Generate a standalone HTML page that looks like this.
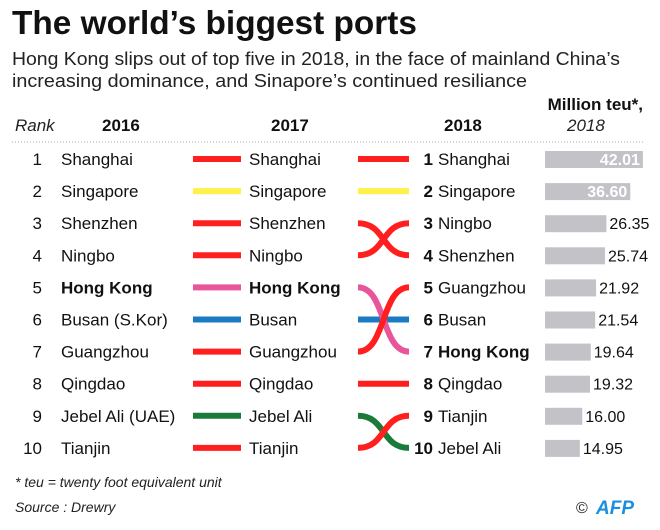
<!DOCTYPE html>
<html><head><meta charset="utf-8">
<style>
body{margin:0;background:#fff;}
svg{display:block;font-family:"Liberation Sans Narrow","Liberation Sans",sans-serif;}
</style></head>
<body>
<svg id="c" width="660" height="530" viewBox="0 0 660 530">
<text x="12" y="34" font-size="33" font-weight="bold" fill="#111" textLength="405" lengthAdjust="spacingAndGlyphs">The world’s biggest ports</text>
<text x="12" y="65" font-size="18" fill="#222" textLength="608" lengthAdjust="spacingAndGlyphs">Hong Kong slips out of top five in 2018, in the face of mainland China’s</text>
<text x="12" y="87" font-size="18" fill="#222" textLength="515" lengthAdjust="spacingAndGlyphs">increasing dominance, and Sinapore’s continued resiliance</text>
<text x="643" y="110" font-size="17" font-weight="bold" fill="#111" text-anchor="end">Million teu*,</text>
<text x="15" y="131" font-size="17" font-style="italic" fill="#222">Rank</text>
<text x="102" y="131" font-size="17" font-weight="bold" fill="#111">2016</text>
<text x="271" y="131" font-size="17" font-weight="bold" fill="#111">2017</text>
<text x="444" y="131" font-size="17" font-weight="bold" fill="#111">2018</text>
<text x="567" y="131" font-size="17" font-style="italic" fill="#222">2018</text>
<line x1="12" y1="142" x2="645" y2="142" stroke="#aaa" stroke-dasharray="1,2"/>
<g id="rows"></g>
<text x="15" y="487" font-size="14" font-style="italic" fill="#222">* teu = twenty foot equivalent unit</text>
<text x="15" y="512" font-size="14" font-style="italic" fill="#222">Source : Drewry</text>
<text x="576" y="513" font-size="16" fill="#222">©</text>
<text x="596" y="514" font-size="19" font-weight="bold" font-style="italic" fill="#1a8fe0">AFP</text>
</svg>
<script>
const names2016 = ["Shanghai","Singapore","Shenzhen","Ningbo","Hong Kong","Busan (S.Kor)","Guangzhou","Qingdao","Jebel Ali (UAE)","Tianjin"];
const names2017 = ["Shanghai","Singapore","Shenzhen","Ningbo","Hong Kong","Busan","Guangzhou","Qingdao","Jebel Ali","Tianjin"];
const rank2018 = [1,2,4,3,7,6,5,8,10,9];
const names2018 = ["Shanghai","Singapore","Ningbo","Shenzhen","Guangzhou","Busan","Hong Kong","Qingdao","Tianjin","Jebel Ali"];
const values2018 = [42.01,36.60,26.35,25.74,21.92,21.54,19.64,19.32,16.00,14.95];
const colors = ["#ff1f1f","#fff04a","#ff1f1f","#ff1f1f","#e8559a","#1b7bc2","#ff1f1f","#ff1f1f","#1a7a3a","#ff1f1f"];
const NS="http://www.w3.org/2000/svg";
const g=document.getElementById('rows');
const y=i=>159+i*32.1;
const bx=v=>v*2.33;
function mk(tag,attrs,txt){const e=document.createElementNS(NS,tag);for(const k in attrs)e.setAttribute(k,attrs[k]);if(txt!==undefined)e.textContent=txt;g.appendChild(e);return e;}
// straight connectors 2016->2017 and crossing ones 2017->2018; draw background swappers first
const order=[...Array(10).keys()].sort((a,b)=>(rank2018[a]-1===a?0:1)-(rank2018[b]-1===b?0:1));
for(let i=0;i<10;i++){
  let e=mk('text',{x:42,y:y(i)+6,'font-size':17,fill:'#111','text-anchor':'end'},String(i+1));
  
  
  e=mk('text',{x:61,y:y(i)+6,'font-size':17,fill:'#111','font-weight':i===4?'bold':'normal'},names2016[i]);
  
  
  e=mk('line',{x1:193,y1:y(i),x2:241,y2:y(i),stroke:colors[i],'stroke-width':6});
  
  
  e=mk('text',{x:249,y:y(i)+6,'font-size':17,fill:'#111','font-weight':i===4?'bold':'normal'},names2017[i]);
  
  
}
for(const i of order){
  const ya=y(i),yb=y(rank2018[i]-1);
  const d=ya===yb?`M358 ${ya} L409 ${yb}`:`M358 ${ya} C386 ${ya} 381 ${yb} 409 ${yb}`;
  const e=mk('path',{d:d,stroke:colors[i],'stroke-width':6,fill:'none'});
  
  
}
for(let j=0;j<10;j++){
  let e=mk('text',{x:433,y:y(j)+6,'font-size':17,fill:'#111','font-weight':'bold','text-anchor':'end'},String(j+1));
  
  
  e=mk('text',{x:438,y:y(j)+6,'font-size':17,fill:'#111','font-weight':names2018[j]==='Hong Kong'?'bold':'normal'},names2018[j]);
  
  
  const w=bx(values2018[j]);
  e=mk('rect',{x:545,y:y(j)-8,width:w,height:17,fill:'#c2c2c8'});
  
  
  const inside=w>80;
  e=mk('text',{x:inside?545+w-3:545+w+3,y:y(j)+6,'font-size':16,fill:inside?'#fff':'#111','font-weight':inside?'bold':'normal','text-anchor':inside?'end':'start'},values2018[j].toFixed(2));
  
  
}
</script>
</body></html>
